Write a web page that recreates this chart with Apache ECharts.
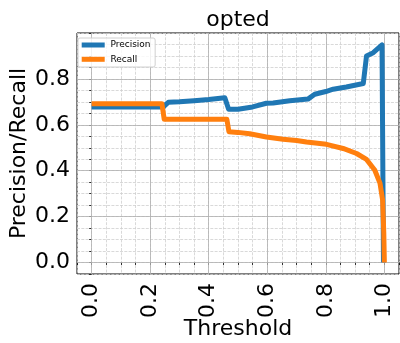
<!DOCTYPE html>
<html>
<head>
<meta charset="utf-8">
<script src="https://cdn.jsdelivr.net/npm/echarts@6/dist/echarts.min.js"></script>
<style>html,body{margin:0;padding:0;background:#fff;}#chart{width:400px;height:343px;}</style>
</head>
<body>
<div id="chart"></div>
<script>
// ---- data ----
const titleText = 'opted';
const xName = 'Threshold';
const yName = 'Precision/Recall';
const seriesNames = ['Precision', 'Recall'];

const precisionX = [0.0, 0.245, 0.255, 0.262, 0.30, 0.35, 0.40, 0.455, 0.468, 0.50, 0.55, 0.597, 0.62, 0.677, 0.739, 0.762, 0.80, 0.825, 0.87, 0.928, 0.939, 0.962, 0.992, 0.997];
const precisionY = [0.678, 0.678, 0.690, 0.698, 0.700, 0.705, 0.710, 0.718, 0.668, 0.668, 0.678, 0.694, 0.695, 0.705, 0.712, 0.733, 0.745, 0.755, 0.765, 0.780, 0.900, 0.914, 0.948, 0.0];

const recallX = [0.0, 0.240, 0.248, 0.462, 0.469, 0.50, 0.54, 0.597, 0.654, 0.70, 0.734, 0.802, 0.859, 0.905, 0.939, 0.967, 0.985, 0.994, 0.998, 1.0];
const recallY = [0.692, 0.692, 0.624, 0.624, 0.570, 0.567, 0.561, 0.547, 0.537, 0.532, 0.525, 0.515, 0.497, 0.475, 0.449, 0.403, 0.346, 0.273, 0.130, 0.0];

const xMajorTicks = [0.0, 0.2, 0.4, 0.6, 0.8, 1.0];
const xTickLabels = ['0.0', '0.2', '0.4', '0.6', '0.8', '1.0'];
const yMajorTicks = [0.0, 0.2, 0.4, 0.6, 0.8];
const yTickLabels = ['0.0', '0.2', '0.4', '0.6', '0.8'];

// ---- chart ----
const FONT = 'DejaVu Sans';
const FS = 22;
function pair(xs, ys) { return xs.map((x, i) => [x, ys[i]]); }
function majorFmt(ticks, labels) {
  return function (v) {
    for (let i = 0; i < ticks.length; i++) if (Math.abs(v - ticks[i]) < 1e-6) return labels[i];
    return '';
  };
}
const minorSplit = { show: true, lineStyle: { color: '#cfcfcf', width: 0.8, type: [3, 1.3] } };
const majorLines = xMajorTicks.map(v => ({ xAxis: v })).concat(yMajorTicks.map(v => ({ yAxis: v })));

const chart = echarts.init(document.getElementById('chart'), null, { renderer: 'canvas' });
chart.setOption({
  animation: false,
  backgroundColor: '#fff',
  title: {
    text: titleText, left: 238, top: 9, textAlign: 'center', padding: 0,
    textStyle: { fontFamily: FONT, fontSize: FS, fontWeight: 'normal', color: '#000' }
  },
  legend: {
    data: seriesNames, orient: 'vertical', left: 78, top: 38,
    padding: [1.5, 4.6, 2.2, 3.7], itemWidth: 23, itemHeight: 5, itemGap: 3.3,
    icon: 'rect', borderColor: '#d0d0d0', borderWidth: 1, borderRadius: 2,
    backgroundColor: 'rgba(255,255,255,0.8)',
    textStyle: { fontFamily: FONT, fontSize: 9, color: '#000', lineHeight: 11, padding: [0, 0, 0, 0.7] }
  },
  grid: { left: 77, right: 1, top: 33, bottom: 69, outerBoundsMode: 'none', containLabel: false, show: true, borderColor: '#000', borderWidth: 1, backgroundColor: 'transparent' },
  xAxis: {
    type: 'value', min: -0.05, max: 1.05, interval: 0.05,
    name: xName, nameLocation: 'middle', nameGap: 44, nameMoveOverlap: false,
    nameTextStyle: { fontFamily: FONT, fontSize: FS, color: '#000' },
    axisLine: { show: false },
    axisTick: { show: true, length: 2.5, lineStyle: { color: '#000', width: 0.8 } },
    axisLabel: { rotate: 90, margin: 9, fontFamily: FONT, fontSize: FS, color: '#000', formatter: majorFmt(xMajorTicks, xTickLabels), showMinLabel: true, showMaxLabel: true },
    splitLine: minorSplit
  },
  yAxis: {
    type: 'value', min: -0.05, max: 1.0, interval: 0.05,
    name: yName, nameLocation: 'middle', nameGap: 47, nameMoveOverlap: false,
    nameTextStyle: { fontFamily: FONT, fontSize: FS, color: '#000' },
    axisLine: { show: false },
    axisTick: { show: true, length: 2.5, lineStyle: { color: '#000', width: 0.8 } },
    axisLabel: { margin: 7, fontFamily: FONT, fontSize: FS, color: '#000', formatter: majorFmt(yMajorTicks, yTickLabels), showMinLabel: true, showMaxLabel: true },
    splitLine: minorSplit
  },
  series: [
    {
      name: '_grid', type: 'line', data: [], silent: true, z: 1,
      markLine: {
        silent: true, symbol: ['none', 'none'], z: 1, animation: false,
        label: { show: false },
        lineStyle: { color: '#b0b0b0', width: 0.8, type: 'solid' },
        emphasis: { disabled: true },
        data: majorLines
      }
    },
    {
      name: seriesNames[0], type: 'line', data: pair(precisionX, precisionY),
      showSymbol: false, symbol: 'none', z: 3,
      lineStyle: { color: '#1f77b4', width: 5, join: 'round', cap: 'butt' },
      itemStyle: { color: '#1f77b4' }
    },
    {
      name: seriesNames[1], type: 'line', data: pair(recallX, recallY),
      showSymbol: false, symbol: 'none', z: 4,
      lineStyle: { color: '#ff7f0e', width: 5, join: 'round', cap: 'butt' },
      itemStyle: { color: '#ff7f0e' }
    }
  ]
});
</script>
</body>
</html>
